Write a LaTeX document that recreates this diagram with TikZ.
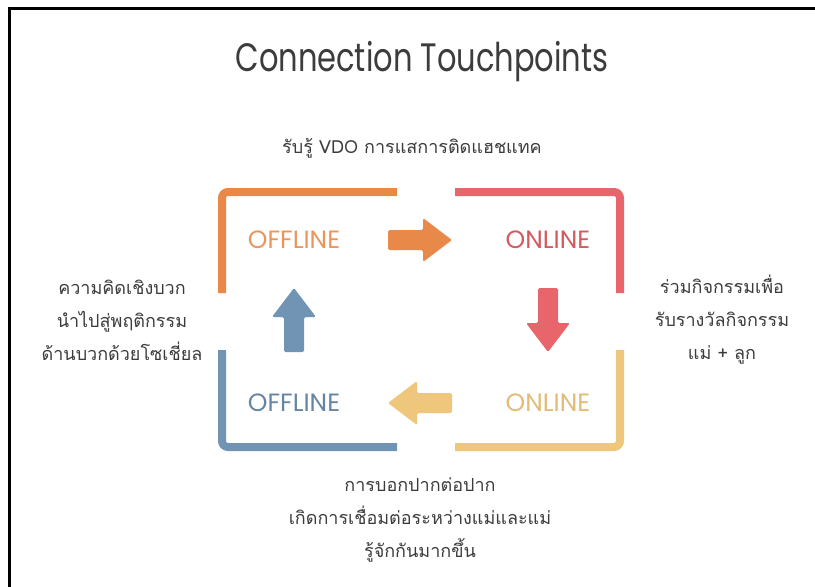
\documentclass[tikz,border=0pt]{standalone}
\usepackage{fontspec}
\usepackage{graphicx}
\setmainfont{Poppins}
\newfontfamily\thaifont[Script=Thai]{Loma}
\usetikzlibrary{positioning}
\definecolor{touchorange}{HTML}{E8894A}
\definecolor{touchred}{HTML}{E8666B}
\definecolor{touchyellow}{HTML}{EEC67C}
\definecolor{touchblue}{HTML}{7194B4}
\definecolor{touchtext}{HTML}{3C3C3C}
\tikzset{
  bracket/.style={line width=8pt, rounded corners=6pt},
  stage/.style={font=\fontsize{25}{28}\selectfont, inner sep=0pt},
  note/.style={font=\thaifont\fontsize{18}{33}\selectfont, text=touchtext, align=center, inner sep=0pt},
  blockarrow/.pic={
    \fill[rounded corners=1.5pt] (-32,-10) -- (3,-10) -- (3,-22) -- (32,0) -- (3,22) -- (3,10) -- (-32,10) -- cycle;
  }
}
\begin{document}
\begin{tikzpicture}[x=1pt, y=-1pt]
				\useasboundingbox (0,0) rectangle (815,587);
				\fill[white] (0,0) rectangle (815,587);
				% frame
				\draw[line width=3pt] (9,587) -- (9,8) -- (815,8);
				% title
				\node[font=\fontsize{30.5}{34}\selectfont, text=touchtext] (T) at (422,62) {\scalebox{1}[1.3]{Connection Touchpoints}};
				% four brackets
				\draw[bracket, touchorange] (222,293) -- (222,192) -- (397,192);
				\draw[bracket, touchred] (455,192) -- (620,192) -- (620,293);
				\draw[bracket, touchyellow] (620,350) -- (620,447) -- (455,447);
				\draw[bracket, touchblue] (397,447) -- (222,447) -- (222,350);
				% stages
				\node[stage, text=touchorange!90!white] (A) at (294,240) {OFFLINE};
				\node[stage, text=touchred!90!black] (B) at (548,240) {ONLINE};
				\node[stage, text=touchyellow!95!black] (C) at (548,403) {ONLINE};
				\node[stage, text=touchblue!90!black] (D) at (294,403) {OFFLINE};
				% arrows between the stages
				\pic[touchorange] at (420,240) {blockarrow};
				\pic[touchred, rotate=-90] at (548,320) {blockarrow};
				\pic[touchyellow, rotate=180] at (420,403) {blockarrow};
				\pic[touchblue, rotate=90] at (294,320) {blockarrow};
				% notes
				\node[note] (AB) at (412,148) {รับรู้ VDO การแสการติดแฮชแทค};
				\node[note] (BC) at (722,320) {ร่วมกิจกรรมเพื่อ\\รับรางวัลกิจกรรม\\แม่ + ลูก};
				\node[note] (CD) at (420,520) {การบอกปากต่อปาก\\เกิดการเชื่อมต่อระหว่างแม่และแม่\\รู้จักกันมากขึ้น};
				\node[note] (DA) at (122,320) {ความคิดเชิงบวก\\นำไปสู่พฤติกรรม\\ด้านบวกด้วยโซเชี่ยล};
\end{tikzpicture}
\end{document}
